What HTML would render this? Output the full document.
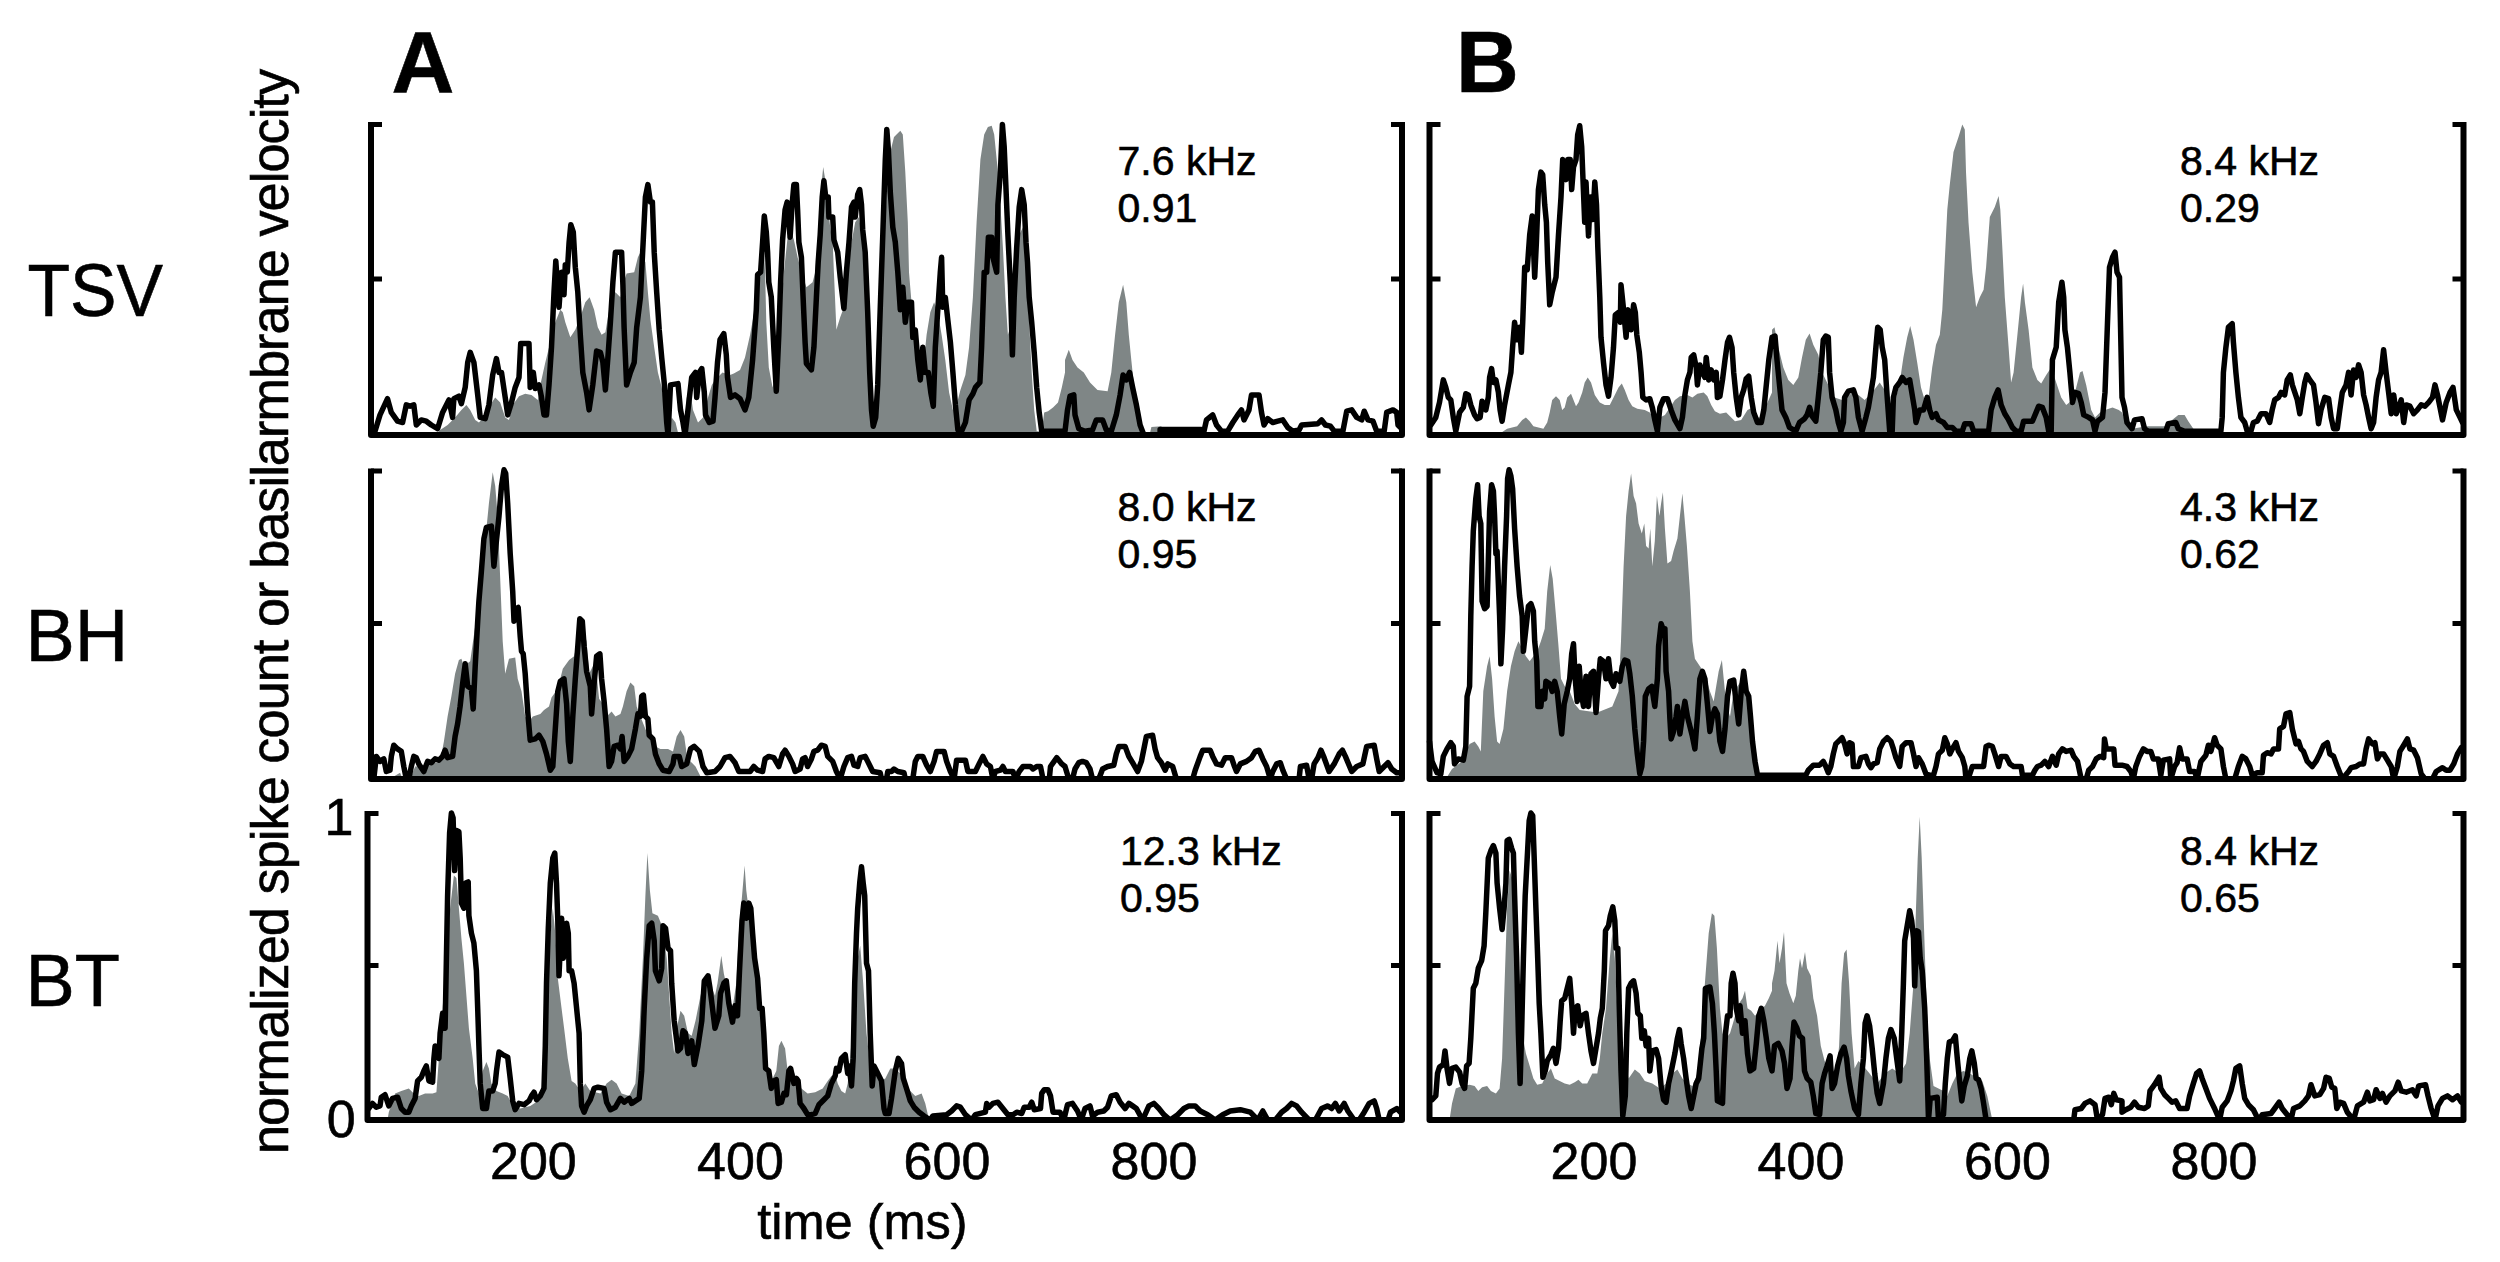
<!DOCTYPE html>
<html><head><meta charset="utf-8"><title>figure</title>
<style>
html,body{margin:0;padding:0;background:#fff;}
body{width:2500px;height:1262px;overflow:hidden;}
svg{display:block;}
text{font-family:"Liberation Sans",sans-serif;fill:#000;stroke:#000;stroke-width:0.6px;}
</style></head><body>
<svg width="2500" height="1262" viewBox="0 0 2500 1262">
<rect width="2500" height="1262" fill="#fff"/>
<g id="pA1"><polygon points="375.0,435.0 375.0,432.5 437.6,432.5 440.1,430.0 447.6,425.0 455.1,417.4 461.4,409.9 466.4,404.9 470.2,409.9 475.2,419.9 478.9,422.5 483.9,417.4 490.2,404.9 495.2,397.4 500.2,402.4 505.2,417.4 509.0,419.9 512.7,404.9 519.0,396.2 525.2,393.7 531.5,394.9 537.8,399.9 540.3,384.9 545.3,362.4 550.3,342.3 555.3,322.3 560.3,309.8 562.8,312.3 565.3,322.3 570.3,337.3 575.3,329.8 580.3,317.3 585.3,302.3 589.6,297.3 594.1,309.8 597.8,327.3 601.6,334.8 605.4,332.3 607.9,317.3 611.6,297.3 615.4,292.3 620.4,297.3 622.9,284.7 626.6,273.5 634.2,272.2 637.9,257.2 640.4,252.2 645.4,262.2 647.9,292.3 650.4,319.8 654.2,347.3 657.9,372.4 661.7,387.4 665.5,409.9 668.0,432.5 671.7,417.4 675.5,422.5 678.0,432.5 684.2,432.5 686.7,397.4 690.5,392.4 693.0,409.9 698.0,422.5 703.0,417.4 708.0,397.4 711.8,384.9 715.0,379.9 715.0,379.9 722.5,372.4 730.0,374.9 733.8,373.6 740.0,369.9 745.0,357.4 750.1,334.8 755.1,307.3 760.1,277.2 763.8,247.2 765.1,272.2 766.3,322.3 768.8,367.4 772.6,387.4 776.3,372.4 780.1,322.3 783.9,272.2 787.6,237.2 790.1,229.7 793.9,239.7 797.6,257.2 801.4,272.2 806.4,287.2 812.6,282.2 815.2,272.2 817.7,242.2 820.2,197.1 823.2,167.1 825.2,179.6 827.7,204.6 830.2,227.2 832.7,242.2 833.9,272.2 836.4,329.8 840.2,317.3 843.9,307.3 847.7,272.2 851.5,242.2 855.2,222.2 859.0,217.1 862.7,242.2 865.2,284.7 867.7,347.3 870.2,397.4 872.7,422.5 876.5,409.9 879.0,347.3 882.8,272.2 886.5,197.1 890.3,152.0 894.0,137.0 900.3,130.8 902.8,134.5 905.3,172.1 907.8,222.2 909.0,272.2 911.5,302.3 915.3,334.8 919.1,359.9 922.8,372.4 926.6,334.8 930.3,312.3 934.1,302.3 937.8,312.3 941.6,334.8 945.3,359.9 949.1,392.4 952.9,409.9 956.6,404.9 960.4,389.9 965.4,374.9 969.1,347.3 972.9,297.3 976.6,222.2 980.4,159.6 984.2,134.5 987.9,127.0 991.7,125.8 994.2,134.5 996.7,159.6 999.2,184.6 1002.9,247.2 1005.4,297.3 1007.9,334.8 1011.7,322.3 1015.5,272.2 1019.2,234.7 1023.0,227.2 1026.7,272.2 1029.2,322.3 1031.7,372.4 1034.2,409.9 1036.7,431.2 1041.7,431.2 1044.2,412.4 1048.0,411.2 1053.0,407.4 1058.0,402.4 1061.8,387.4 1065.0,372.4 1065.0,359.9 1068.8,349.8 1072.5,359.9 1077.5,367.4 1083.8,372.4 1090.0,382.4 1097.5,389.9 1107.6,391.2 1111.3,372.4 1115.1,334.8 1118.8,302.3 1123.1,284.7 1126.3,302.3 1128.8,334.8 1131.3,359.9 1133.9,384.9 1137.6,409.9 1141.4,432.5 1150.1,432.5 1151.4,427.0 1161.4,426.2 1162.6,432.5 1162.6,435.0" fill="#7f8686"/>
<polyline points="375.0,431.2 380.0,414.9 387.5,398.7 391.3,412.4 397.5,421.2 402.6,422.5 406.3,404.9 410.1,406.2 413.8,404.9 416.3,425.0 421.3,419.9 426.3,421.2 431.3,425.0 437.6,428.7 442.6,412.4 448.9,399.9 452.6,417.4 453.9,398.7 458.9,396.2 461.4,403.7 465.2,387.4 467.7,362.4 470.2,352.3 473.9,362.4 477.7,394.9 480.2,417.4 485.2,418.7 488.9,404.9 492.7,374.9 496.4,358.6 499.0,372.4 501.5,372.4 505.2,397.4 507.7,414.9 511.5,402.4 515.2,387.4 519.0,377.4 520.7,343.6 529.0,343.6 530.2,387.4 533.3,372.4 535.3,388.6 539.0,384.9 541.5,397.4 544.0,414.9 546.5,414.9 549.0,384.9 551.5,347.3 554.0,292.3 555.8,261.0 559.0,307.3 561.5,272.2 564.0,294.8 565.3,264.7 567.3,272.2 569.1,242.2 570.8,224.7 573.3,232.2 575.3,267.2 577.8,292.3 580.3,334.8 582.8,372.4 586.6,392.4 589.1,409.9 592.8,384.9 596.6,351.1 600.4,352.3 602.9,362.4 605.4,389.9 607.9,357.4 610.4,322.3 612.9,282.2 615.4,252.2 621.6,252.2 622.9,284.7 624.1,327.3 626.6,384.9 630.4,372.4 634.2,362.4 636.7,327.3 640.4,297.3 642.9,247.2 645.4,197.1 647.9,184.6 650.4,202.1 652.4,202.1 654.2,252.2 656.7,292.3 659.2,329.8 661.7,357.4 664.2,382.4 666.7,422.5 668.0,435.0 670.5,384.9 678.0,383.6 680.5,409.9 683.0,422.5 685.0,435.0 688.0,409.9 691.7,377.4 695.5,372.4 696.7,397.4 699.3,372.4 701.8,368.6 704.3,392.4 705.5,414.9 709.3,422.5 713.0,421.2 715.0,397.4 715.0,397.4 717.5,362.4 720.0,339.8 723.8,333.6 726.3,354.8 727.5,377.4 730.5,397.4 735.0,394.9 740.0,398.7 745.0,409.9 748.8,397.4 752.6,359.9 756.3,309.8 757.6,274.7 760.6,272.2 762.6,242.2 764.3,215.9 766.3,232.2 767.6,252.2 768.8,282.2 771.3,297.3 773.8,347.3 776.3,391.2 778.8,334.8 780.6,282.2 782.6,239.7 785.1,209.6 787.1,202.1 788.9,222.2 790.1,237.2 792.1,204.6 793.9,184.6 796.4,184.6 797.6,209.6 798.9,242.2 801.4,257.2 803.1,297.3 805.1,342.3 806.4,363.6 811.4,369.9 813.9,347.3 816.4,297.3 818.2,262.2 820.2,234.7 822.2,197.1 823.9,180.8 825.7,197.1 828.2,197.1 828.9,217.1 832.7,217.1 833.9,239.7 837.7,252.2 840.2,277.2 843.9,308.5 846.4,272.2 849.0,242.2 851.5,207.1 854.0,202.1 855.2,217.1 857.7,194.6 859.7,189.6 861.5,204.6 862.7,229.7 865.2,252.2 867.7,312.3 869.7,372.4 871.5,409.9 873.2,426.2 875.7,417.4 877.7,384.9 880.2,309.8 882.8,234.7 885.3,159.6 886.8,129.5 888.5,152.0 890.3,192.1 892.8,227.2 895.3,242.2 897.8,272.2 900.3,309.8 902.8,287.2 905.3,322.3 907.8,302.3 911.5,302.3 912.8,337.3 915.3,329.8 917.8,359.9 920.3,379.9 922.8,347.3 925.3,372.4 928.3,372.4 930.8,392.4 933.3,406.2 935.3,347.3 937.8,309.8 940.3,272.2 941.6,257.2 942.8,307.3 945.3,297.3 947.8,319.8 950.4,342.3 952.9,372.4 955.4,404.9 957.9,430.0 961.6,431.2 965.4,422.5 969.1,399.9 972.9,393.7 975.4,387.4 979.9,382.4 981.6,347.3 984.2,272.2 986.7,272.2 988.4,237.2 991.7,237.2 992.9,257.2 996.7,272.2 997.9,204.6 1000.4,172.1 1002.4,124.5 1004.2,147.0 1005.4,174.6 1007.9,234.7 1010.4,284.7 1012.4,354.8 1014.2,297.3 1016.7,247.2 1019.2,207.1 1021.7,189.6 1024.2,204.6 1026.0,242.2 1027.5,262.2 1029.2,297.3 1031.7,322.3 1034.2,352.3 1036.7,387.4 1039.2,412.4 1041.7,431.2 1065.0,431.2 1065.0,431.2 1067.5,409.9 1070.0,396.2 1073.8,394.9 1075.0,414.9 1078.8,428.7 1085.0,431.2 1092.5,430.0 1096.3,419.9 1102.6,419.9 1106.3,430.0 1111.3,431.2 1116.3,414.9 1120.1,394.9 1123.1,374.9 1126.3,379.9 1129.6,372.4 1132.6,387.4 1136.4,404.9 1140.1,425.0 1143.9,435.0 1160.1,435.0 1160.1,429.5 1201.5,429.5 1204.0,431.2 1206.5,419.9 1212.7,414.9 1216.5,425.0 1221.5,431.2 1227.7,431.2 1232.8,422.5 1237.8,414.9 1241.5,409.9 1244.0,419.9 1249.0,409.9 1251.5,394.9 1259.0,394.9 1261.5,412.4 1264.0,425.0 1267.8,418.7 1272.8,422.5 1277.8,421.2 1282.8,419.9 1287.8,427.5 1292.8,431.2 1299.1,430.0 1301.6,425.0 1317.9,423.7 1321.6,419.9 1325.4,425.0 1330.4,426.2 1334.2,431.2 1342.9,431.2 1346.7,411.2 1351.7,409.9 1356.7,417.4 1361.7,419.9 1364.2,411.2 1368.0,419.9 1373.0,421.2 1376.7,431.2 1384.2,431.2 1386.7,412.4 1393.0,409.9 1396.7,412.4 1398.0,425.0 1400.5,427.5" fill="none" stroke="#000" stroke-width="5.5" stroke-linejoin="round" stroke-linecap="round"/>
<path d="M371,122.0 V435 H1402 V122.0" fill="none" stroke="#000" stroke-width="6" stroke-linejoin="round" stroke-linecap="butt"/>
<path d="M371,124.5 h11 M1402,124.5 h-11 M371,279 h11 M1402,279 h-11" fill="none" stroke="#000" stroke-width="5" stroke-linecap="butt"/></g>
<g id="pA2"><polygon points="390.0,779.0 390.0,779.0 393.8,776.5 400.1,772.7 402.6,779.0 410.1,779.0 415.1,766.5 427.6,765.2 440.1,761.4 443.9,741.4 447.6,716.4 451.4,696.3 455.1,673.8 458.9,660.0 461.4,658.8 463.9,666.3 470.2,661.3 475.2,626.2 480.2,586.2 485.2,541.1 488.9,503.6 492.7,472.3 495.2,486.0 497.7,516.1 500.2,578.7 502.7,641.3 505.2,673.8 509.0,658.8 515.2,657.5 517.7,678.8 521.5,691.3 525.2,716.4 529.0,721.4 532.8,716.4 540.3,713.9 544.0,710.1 549.0,706.4 551.5,697.6 557.8,688.8 562.8,668.8 569.1,660.0 574.1,656.3 577.8,641.3 582.8,628.7 586.6,641.3 589.1,673.8 592.8,666.3 596.6,673.8 599.1,698.8 602.9,703.9 606.6,716.4 611.6,711.4 615.4,716.4 620.4,713.9 622.9,706.4 626.6,691.3 630.4,682.6 634.2,686.3 636.7,706.4 640.4,716.4 645.4,728.9 650.4,738.9 655.4,746.4 660.4,748.9 668.0,748.9 673.0,751.4 676.7,736.4 680.5,730.1 684.2,736.4 686.7,753.9 690.5,761.4 695.5,766.5 699.3,774.0 701.8,779.0 701.8,779.0" fill="#7f8686"/>
<polyline points="373.8,779.0 376.3,756.4 380.0,761.4 383.8,758.9 386.3,771.5 390.0,770.2 391.3,756.4 393.8,745.2 397.5,748.9 401.3,751.4 403.8,766.5 406.3,779.0 408.8,779.0 411.3,766.5 413.8,756.4 416.3,757.7 418.8,763.9 423.8,771.5 427.6,761.4 431.3,762.7 435.1,758.9 438.9,760.2 442.6,756.4 445.1,750.2 447.6,757.7 452.6,756.4 455.1,736.4 457.6,723.9 460.1,706.4 462.6,683.8 465.2,663.8 467.7,686.3 471.4,688.8 473.2,708.9 475.2,666.3 477.7,621.2 478.9,601.2 481.4,571.2 483.9,538.6 486.4,527.3 491.4,526.1 493.9,566.2 496.4,541.1 499.0,516.1 501.5,486.0 504.0,469.8 505.7,473.5 507.7,503.6 510.2,553.6 512.7,591.2 514.0,621.2 516.5,608.7 518.2,607.5 520.2,636.3 521.5,651.3 523.2,653.8 525.2,673.8 527.7,711.4 530.2,740.2 535.3,738.9 539.0,735.2 542.8,741.4 546.5,753.9 550.3,770.2 552.8,766.5 555.3,728.9 557.8,691.3 560.3,681.3 564.0,678.8 566.6,703.9 568.3,741.4 570.3,761.4 572.8,716.4 575.3,678.8 577.8,646.3 579.8,618.7 582.3,621.2 584.1,646.3 586.6,671.3 590.3,686.3 591.6,713.9 594.1,683.8 596.6,656.3 599.9,653.8 601.6,678.8 604.1,701.4 606.6,728.9 609.1,766.5 611.6,761.4 614.1,746.4 617.9,745.2 620.4,748.9 622.1,736.4 624.1,761.4 627.9,756.4 631.6,748.9 635.4,728.9 637.9,713.9 640.4,716.4 641.7,696.3 643.4,695.1 645.4,716.4 647.9,718.9 649.2,735.2 652.9,738.9 655.4,753.9 659.2,763.9 662.9,770.2 669.2,771.5 673.0,763.9 674.2,756.4 679.2,756.4 681.7,766.5 686.7,763.9 690.5,748.9 694.2,746.4 699.3,751.4 703.0,766.5 706.8,772.7 715.0,771.5 715.0,771.5 720.0,766.5 725.0,757.7 730.0,756.4 735.0,762.7 738.8,771.5 750.1,771.5 753.8,766.5 757.6,770.2 762.6,771.5 765.1,758.9 768.8,756.4 773.8,757.7 778.8,766.5 782.6,753.9 785.1,750.2 788.9,756.4 792.6,763.9 795.1,771.5 800.1,769.0 802.6,758.9 805.1,757.7 807.6,766.5 811.4,758.9 813.9,751.4 817.7,750.2 821.4,745.2 825.2,746.4 827.7,756.4 832.7,761.4 836.4,771.5 840.2,779.0 843.9,766.5 847.7,757.7 851.5,756.4 854.0,765.2 857.7,766.5 860.2,757.7 865.2,756.4 869.0,763.9 872.7,771.5 880.2,772.7 881.5,779.0 886.5,779.0 887.8,771.5 891.5,771.5 894.0,769.0 897.8,771.5 904.0,772.7 905.3,779.0 912.8,779.0 915.3,761.4 917.8,756.4 922.8,756.4 926.6,765.2 930.3,771.5 934.1,761.4 936.6,751.4 944.1,751.4 946.6,761.4 950.4,771.5 954.1,779.0 956.6,760.2 965.4,760.2 967.9,771.5 975.4,771.5 979.1,763.9 982.9,756.4 986.7,763.9 990.4,766.5 992.9,779.0 995.4,771.5 1000.4,770.2 1002.9,766.5 1005.4,771.5 1012.9,771.5 1015.5,779.0 1019.2,771.5 1023.0,766.5 1030.5,766.5 1033.0,769.0 1036.7,766.5 1040.5,766.5 1043.0,779.0 1049.3,779.0 1050.5,766.5 1056.8,757.7 1061.8,763.9 1065.0,766.5 1065.0,766.5 1068.8,779.0 1072.5,779.0 1075.0,769.0 1078.8,762.7 1082.5,761.4 1086.3,762.7 1090.0,769.0 1092.5,779.0 1098.8,779.0 1102.6,769.0 1107.6,766.5 1113.8,765.2 1116.3,753.9 1118.8,746.4 1125.1,746.4 1128.8,756.4 1132.6,762.7 1137.6,771.5 1141.4,761.4 1143.9,748.9 1146.4,736.4 1152.6,735.2 1155.1,748.9 1157.6,757.7 1161.4,762.7 1165.2,770.2 1167.7,763.9 1172.7,766.5 1176.4,779.0 1192.7,779.0 1195.2,770.2 1200.2,756.4 1202.7,750.2 1210.2,750.2 1212.7,756.4 1216.5,763.9 1221.5,765.2 1225.2,757.7 1231.5,757.7 1234.0,765.2 1236.5,771.5 1240.3,763.9 1246.5,761.4 1251.5,757.7 1255.3,751.4 1259.0,750.2 1262.8,758.9 1266.6,766.5 1270.3,779.0 1272.8,771.5 1276.6,763.9 1280.3,762.7 1282.8,770.2 1286.6,779.0 1299.1,779.0 1300.4,766.5 1306.6,765.2 1309.1,779.0 1311.6,779.0 1314.1,763.9 1317.9,757.7 1320.9,750.2 1324.1,757.7 1329.1,771.5 1334.2,763.9 1339.2,753.9 1342.4,750.2 1345.4,756.4 1351.7,771.5 1356.7,766.5 1362.9,763.9 1366.7,746.4 1374.2,745.2 1376.7,758.9 1379.2,771.5 1384.2,766.5 1388.0,762.7 1391.7,769.0 1396.7,772.7 1400.5,772.7" fill="none" stroke="#000" stroke-width="5.5" stroke-linejoin="round" stroke-linecap="round"/>
<path d="M371,468.5 V779 H1402 V468.5" fill="none" stroke="#000" stroke-width="6" stroke-linejoin="round" stroke-linecap="butt"/>
<path d="M371,471 h11 M1402,471 h-11 M371,623.6 h11 M1402,623.6 h-11" fill="none" stroke="#000" stroke-width="5" stroke-linecap="butt"/></g>
<g id="pA3"><polygon points="387.5,1120.0 387.5,1120.0 388.8,1112.2 395.1,1093.4 401.3,1090.9 408.8,1088.4 413.8,1093.4 418.8,1095.9 425.1,1093.4 432.6,1093.4 436.4,1092.2 438.9,1058.4 442.6,1008.3 446.4,958.2 450.1,908.2 453.9,875.6 456.4,878.1 458.9,908.2 461.4,938.2 463.9,963.2 466.4,995.8 468.9,1028.3 472.7,1058.4 475.2,1083.4 478.9,1093.4 482.7,1070.9 486.4,1062.1 488.9,1068.4 491.4,1083.4 496.5,1090.9 502.7,1093.4 507.7,1095.9 512.7,1105.9 520.2,1108.5 530.3,1105.9 537.8,1100.9 542.8,1083.4 546.5,1008.3 550.3,933.2 552.8,908.2 555.3,933.2 557.8,978.3 560.3,998.3 564.1,1028.3 567.8,1058.4 571.6,1080.9 575.3,1083.4 580.3,1090.9 585.3,1083.4 590.3,1090.9 600.4,1093.4 606.6,1083.4 611.6,1079.7 616.6,1083.4 621.6,1093.4 629.2,1095.9 635.4,1083.4 639.2,1033.3 642.9,958.2 645.4,895.6 647.4,853.1 649.9,890.6 652.4,913.2 657.9,915.7 663.0,928.2 666.7,958.2 669.2,995.8 671.7,1033.3 674.2,1053.4 676.7,1028.3 680.5,1010.8 684.2,1015.8 688.0,1033.3 691.7,1035.8 695.5,1020.8 700.5,995.8 704.3,980.8 710.0,978.3 710.0,983.3 715.0,995.8 717.5,983.3 721.3,955.7 723.8,973.2 727.5,990.8 732.5,1008.3 736.3,983.3 738.8,933.2 742.5,890.6 744.6,865.6 746.3,890.6 750.1,920.7 753.8,948.2 757.6,978.3 761.3,1013.3 763.8,1045.9 767.6,1070.9 772.6,1078.4 776.3,1070.9 778.9,1045.9 781.4,1040.8 785.1,1048.4 787.6,1070.9 791.4,1065.9 796.4,1078.4 801.4,1088.4 807.6,1093.4 815.2,1092.2 822.7,1088.4 827.7,1080.9 831.4,1075.9 835.2,1073.4 837.7,1083.4 841.4,1090.9 845.2,1093.4 847.7,1083.4 850.2,1058.4 854.0,1008.3 857.7,958.2 860.2,945.7 863.2,983.3 866.5,1033.3 870.2,1065.9 874.0,1070.9 880.3,1080.9 885.3,1078.4 890.3,1068.4 895.3,1068.4 900.3,1073.4 905.3,1083.4 910.3,1090.9 915.3,1095.9 921.6,1093.4 925.3,1103.4 929.1,1120.0 929.1,1120.0" fill="#7f8686"/>
<polyline points="368.8,1108.5 372.5,1103.4 376.3,1107.2 380.0,1105.9 381.3,1097.2 385.0,1094.7 388.8,1105.9 392.5,1098.4 397.6,1097.2 401.3,1108.5 405.1,1112.2 408.8,1112.2 411.3,1105.9 415.1,1098.4 417.6,1080.9 421.3,1077.2 423.8,1070.9 426.3,1065.9 428.9,1080.9 432.6,1082.2 433.9,1058.4 435.1,1045.9 438.9,1058.4 440.1,1033.3 442.6,1013.3 445.1,1028.3 446.4,958.2 447.6,895.6 449.6,833.0 451.4,813.0 453.1,818.0 454.6,870.6 456.4,830.5 458.9,831.8 460.2,858.1 461.4,903.1 463.9,908.2 465.7,883.1 468.2,881.9 468.9,915.7 471.4,933.2 473.9,943.2 476.4,970.7 477.7,1008.3 478.9,1045.9 480.2,1083.4 482.7,1108.5 486.4,1108.5 488.9,1090.9 492.7,1090.9 495.2,1083.4 496.5,1070.9 499.0,1052.1 502.7,1054.6 507.7,1057.1 510.2,1078.4 512.7,1100.9 515.2,1109.7 519.0,1103.4 524.0,1104.7 529.0,1100.9 531.5,1095.9 534.0,1092.2 536.5,1099.7 540.3,1095.9 544.0,1088.4 545.3,1045.9 546.5,983.3 548.3,928.2 550.3,883.1 552.8,858.1 554.8,853.1 556.5,883.1 557.8,920.7 559.0,975.8 561.6,918.2 563.3,958.2 565.3,938.2 566.6,923.2 568.3,933.2 569.1,970.7 571.6,970.7 574.1,983.3 576.6,1008.3 579.1,1033.3 580.3,1083.4 581.6,1105.9 584.1,1112.2 586.6,1105.9 590.3,1099.7 594.1,1088.4 597.9,1087.2 604.1,1088.4 606.6,1102.2 610.4,1109.7 615.4,1107.2 620.4,1098.4 624.1,1102.2 629.2,1098.4 631.7,1103.4 635.4,1100.9 639.2,1098.4 641.7,1070.9 644.2,1008.3 646.7,958.2 649.2,925.7 651.7,923.2 654.2,940.7 655.4,970.7 659.2,980.8 661.7,968.2 663.0,925.7 665.5,928.2 668.0,948.2 670.5,950.7 671.7,983.3 674.2,1020.8 678.0,1050.9 680.5,1048.4 683.0,1030.8 685.5,1033.3 688.0,1053.4 691.7,1040.8 694.3,1064.6 698.0,1045.9 701.8,1020.8 704.3,980.8 708.0,975.8 710.0,988.3 710.0,988.3 712.5,1008.3 715.0,1028.3 718.8,1015.8 720.5,993.3 723.8,983.3 726.3,980.8 728.8,1003.3 732.5,1022.1 735.0,1005.8 737.5,1015.8 739.5,970.7 742.0,920.7 743.8,903.1 746.3,918.2 748.8,903.1 750.8,908.2 752.6,933.2 754.6,958.2 757.6,978.3 759.6,1008.3 762.1,1008.3 763.8,1033.3 765.6,1068.4 768.8,1070.9 771.3,1088.4 773.8,1080.9 776.3,1079.7 778.1,1103.4 781.4,1102.2 783.9,1093.4 786.4,1094.7 788.9,1070.9 790.6,1068.4 793.9,1083.4 796.4,1078.4 798.1,1080.9 800.1,1103.4 803.9,1108.5 807.6,1114.7 811.4,1114.7 815.2,1113.5 818.9,1104.7 823.9,1099.7 827.7,1095.9 831.4,1083.4 835.2,1075.9 836.4,1068.4 838.9,1070.9 841.4,1058.4 845.2,1054.6 847.7,1073.4 849.0,1065.9 851.5,1085.9 853.2,1058.4 854.7,983.3 856.5,933.2 857.7,908.2 859.7,883.1 861.5,866.8 863.2,883.1 864.7,895.6 866.5,963.2 868.5,970.7 870.2,1033.3 872.2,1085.9 874.0,1065.9 877.8,1073.4 881.5,1080.9 884.0,1108.5 885.3,1113.5 889.0,1113.5 891.5,1098.4 895.3,1070.9 898.3,1058.4 901.5,1063.4 903.3,1078.4 906.5,1088.4 910.3,1100.9 914.1,1107.2 919.1,1112.2 924.1,1116.0 930.3,1120.0 932.8,1116.0 946.6,1114.7 951.6,1111.0 956.6,1105.9 960.4,1107.2 965.4,1114.7 971.6,1120.0 975.4,1114.7 985.4,1112.2 986.7,1103.4 989.2,1107.2 992.9,1103.4 997.9,1102.2 1002.9,1108.5 1007.9,1114.7 1013.0,1114.7 1016.7,1112.2 1021.7,1113.5 1024.2,1107.2 1029.2,1107.2 1031.7,1102.2 1034.2,1109.7 1040.5,1108.5 1041.7,1093.4 1044.3,1089.7 1048.0,1089.7 1050.5,1095.9 1053.0,1112.2 1060.0,1112.2 1060.0,1112.2 1063.8,1120.0 1067.5,1104.7 1072.5,1103.4 1077.5,1111.0 1081.3,1120.0 1085.0,1108.5 1090.0,1105.9 1092.5,1116.0 1097.6,1112.2 1103.8,1111.0 1107.6,1107.2 1111.3,1095.9 1116.3,1094.7 1120.1,1102.2 1125.1,1108.5 1128.9,1103.4 1132.6,1105.9 1136.4,1108.5 1142.6,1120.0 1148.9,1105.9 1153.9,1103.4 1158.9,1108.5 1163.9,1114.7 1170.2,1120.0 1177.7,1114.7 1183.9,1108.5 1188.9,1105.9 1195.2,1105.9 1200.2,1111.0 1207.7,1114.7 1215.2,1120.0 1222.7,1114.7 1230.3,1111.0 1240.3,1109.7 1250.3,1112.2 1257.8,1120.0 1262.8,1111.0 1267.8,1120.0 1275.3,1120.0 1281.6,1112.2 1286.6,1108.5 1291.6,1103.4 1296.6,1105.9 1301.6,1112.2 1309.1,1120.0 1315.4,1120.0 1321.6,1108.5 1327.9,1105.9 1331.7,1108.5 1335.4,1103.4 1339.2,1111.0 1344.2,1103.4 1347.9,1111.0 1354.2,1120.0 1359.2,1120.0 1364.2,1112.2 1369.2,1103.4 1374.2,1100.9 1376.7,1108.5 1379.2,1120.0 1388.0,1120.0 1390.5,1112.2 1396.8,1108.5 1400.5,1112.2" fill="none" stroke="#000" stroke-width="5.5" stroke-linejoin="round" stroke-linecap="round"/>
<path d="M367.5,811.0 V1120 H1402 V811.0" fill="none" stroke="#000" stroke-width="6" stroke-linejoin="round" stroke-linecap="butt"/>
<path d="M367.5,813.5 h11 M1402,813.5 h-11 M367.5,965.5 h11 M1402,965.5 h-11" fill="none" stroke="#000" stroke-width="5" stroke-linecap="butt"/></g>
<g id="pB1"><polygon points="1499.6,435.0 1499.6,433.7 1507.1,428.7 1517.1,426.2 1522.2,419.9 1525.9,417.4 1529.7,421.2 1533.4,426.2 1538.4,427.5 1543.4,428.7 1547.2,422.5 1549.7,412.4 1552.2,399.9 1556.0,396.2 1559.7,399.9 1562.2,409.9 1564.7,407.4 1567.2,397.4 1571.0,393.7 1573.5,399.9 1576.0,406.2 1578.5,402.4 1582.2,392.4 1584.7,382.4 1587.7,377.4 1591.0,382.4 1594.8,394.9 1599.8,402.4 1604.8,404.9 1609.8,404.9 1614.8,394.9 1618.5,387.4 1621.8,383.6 1624.8,389.9 1628.6,399.9 1632.3,406.2 1637.3,408.7 1644.8,409.9 1649.8,412.4 1654.8,419.9 1659.9,417.4 1664.9,414.9 1669.9,407.4 1674.9,399.9 1679.9,396.2 1687.4,394.9 1692.4,397.4 1697.4,393.7 1703.7,392.4 1707.4,396.2 1711.2,404.9 1714.9,411.2 1719.9,413.7 1726.2,412.4 1731.2,417.4 1735.0,421.2 1741.2,419.9 1747.5,409.9 1752.5,407.4 1757.5,417.4 1762.5,417.4 1767.5,402.4 1772.0,392.4 1772.0,329.8 1774.5,327.3 1778.3,347.3 1783.3,367.4 1788.3,379.9 1793.3,384.9 1798.3,377.4 1802.0,357.4 1805.8,339.8 1809.6,333.6 1813.3,344.8 1818.3,354.8 1822.1,372.4 1828.3,384.9 1834.6,397.4 1842.1,399.9 1847.1,397.4 1852.1,392.4 1858.4,394.9 1864.6,399.9 1872.2,392.4 1879.7,382.4 1884.7,389.9 1889.7,404.9 1894.7,402.4 1899.7,382.4 1903.4,357.4 1907.2,337.3 1910.2,326.1 1913.5,339.8 1917.2,362.4 1921.0,387.4 1924.7,399.9 1928.5,397.4 1932.2,367.4 1936.0,344.8 1939.8,334.8 1942.3,309.8 1944.8,259.7 1947.3,209.6 1949.8,184.6 1953.5,152.0 1958.5,137.0 1962.3,124.5 1964.8,129.5 1966.0,172.1 1968.5,222.2 1972.3,272.2 1976.1,307.3 1979.8,297.3 1983.6,289.8 1986.1,267.2 1989.8,217.1 1994.8,207.1 1998.6,195.9 2000.3,209.6 2002.3,247.2 2004.8,297.3 2008.6,347.3 2011.1,382.4 2013.6,372.4 2017.4,334.8 2021.1,297.3 2023.1,283.5 2024.9,302.3 2028.6,329.8 2032.4,367.4 2037.4,379.9 2041.2,383.6 2046.2,374.9 2051.2,367.4 2056.2,382.4 2061.2,397.4 2066.2,404.9 2072.5,399.9 2076.2,387.4 2080.0,372.4 2082.5,371.1 2086.2,384.9 2091.2,409.9 2095.0,417.4 2100.0,412.4 2105.0,409.9 2112.5,407.4 2118.8,409.9 2122.0,412.4 2122.0,412.4 2125.8,422.5 2132.0,428.7 2147.0,426.2 2164.6,426.2 2172.1,419.9 2178.3,414.9 2184.6,414.9 2188.3,421.2 2193.4,428.7 2197.1,433.7 2197.1,435.0" fill="#7f8686"/>
<polyline points="1430.8,425.0 1435.8,417.4 1439.5,402.4 1443.3,379.9 1445.8,387.4 1448.3,397.4 1450.8,399.9 1453.3,417.4 1455.8,431.2 1459.6,412.4 1463.3,407.4 1465.8,393.7 1468.3,394.9 1470.8,404.9 1474.6,414.9 1477.1,418.7 1480.1,417.4 1482.1,401.2 1485.8,409.9 1488.3,397.4 1489.6,377.4 1491.6,368.6 1493.4,382.4 1495.9,379.9 1498.4,392.4 1500.1,409.9 1502.1,421.2 1504.6,404.9 1508.4,384.9 1510.9,372.4 1512.6,347.3 1514.6,322.3 1517.1,339.8 1519.6,327.3 1521.4,352.3 1522.7,322.3 1524.7,267.2 1527.2,269.7 1529.7,234.7 1532.2,215.9 1534.7,277.2 1536.4,242.2 1538.4,189.6 1540.9,172.1 1542.7,174.6 1544.7,204.6 1546.4,222.2 1547.7,262.2 1549.7,304.8 1552.2,292.3 1556.0,277.2 1558.5,234.7 1561.0,197.1 1562.7,159.6 1566.0,179.6 1567.7,159.6 1570.2,159.6 1571.7,189.6 1573.5,167.1 1576.0,159.6 1577.7,134.5 1579.7,125.8 1581.7,147.0 1583.5,192.1 1584.7,222.2 1586.0,182.1 1588.5,235.9 1590.3,197.1 1592.8,219.6 1594.8,182.1 1596.5,204.6 1597.8,247.2 1599.8,297.3 1601.0,337.3 1603.5,362.4 1606.0,384.9 1608.5,396.2 1611.0,377.4 1613.5,347.3 1615.3,314.8 1618.5,312.3 1620.3,322.3 1621.0,284.7 1623.6,309.8 1626.1,337.3 1627.8,309.8 1631.1,329.8 1633.6,304.8 1635.3,312.3 1636.8,334.8 1639.3,352.3 1641.1,372.4 1642.8,397.4 1646.1,399.9 1649.8,398.7 1652.3,407.4 1654.8,419.9 1657.4,431.2 1659.9,407.4 1663.6,398.7 1667.4,398.7 1671.1,409.9 1674.9,419.9 1679.9,428.7 1682.4,417.4 1684.9,394.9 1687.4,379.9 1689.9,372.4 1691.2,357.4 1693.7,354.8 1696.2,367.4 1697.4,384.9 1699.9,364.9 1702.4,372.4 1704.9,377.4 1706.2,357.4 1708.7,379.9 1711.2,369.9 1713.7,379.9 1716.2,372.4 1717.4,397.4 1719.9,396.2 1722.5,379.9 1725.0,359.9 1727.5,342.3 1729.5,337.3 1732.0,347.3 1733.7,372.4 1736.2,397.4 1738.7,414.9 1741.2,397.4 1743.7,389.9 1746.2,378.6 1748.7,376.1 1751.2,397.4 1753.7,412.4 1757.5,422.5 1761.3,422.5 1763.8,409.9 1766.3,384.9 1768.8,359.9 1772.0,337.3 1772.0,337.3 1775.0,336.1 1777.0,359.9 1779.5,384.9 1782.0,409.9 1785.8,417.4 1789.5,427.5 1795.8,431.2 1799.5,422.5 1804.5,418.7 1807.1,414.9 1809.6,407.4 1812.1,416.2 1815.8,421.2 1818.3,397.4 1820.8,372.4 1823.3,339.8 1825.8,336.1 1828.3,337.3 1829.6,372.4 1832.1,397.4 1835.8,409.9 1838.3,422.5 1840.9,431.2 1843.4,422.5 1844.6,397.4 1848.4,391.2 1853.4,389.9 1855.9,397.4 1858.4,417.4 1862.1,431.2 1865.9,417.4 1868.4,407.4 1870.9,392.4 1873.4,377.4 1875.9,347.3 1877.7,327.3 1880.2,329.8 1882.2,347.3 1884.7,359.9 1887.2,397.4 1889.7,431.2 1892.2,431.2 1893.4,397.4 1895.9,387.4 1899.7,382.4 1902.2,377.4 1906.0,382.4 1909.7,379.9 1912.2,394.9 1914.7,409.9 1916.0,422.5 1919.7,409.9 1923.5,409.9 1927.2,397.4 1929.7,409.9 1932.2,417.4 1936.0,413.7 1938.5,419.9 1943.5,422.5 1947.3,427.5 1952.3,427.5 1956.0,431.2 1962.3,431.2 1964.8,423.7 1971.0,423.7 1973.6,431.2 1988.6,431.2 1991.1,409.9 1994.8,397.4 1998.1,389.9 2001.1,404.9 2004.8,413.7 2008.6,419.9 2012.4,427.5 2016.1,431.2 2021.1,431.2 2023.6,421.2 2032.4,421.2 2036.1,412.4 2038.6,406.2 2042.4,407.4 2046.2,417.4 2048.7,431.2 2051.2,431.2 2052.4,359.9 2056.2,347.3 2058.7,302.3 2061.9,282.2 2063.7,297.3 2064.9,329.8 2067.4,347.3 2069.9,372.4 2072.5,402.4 2075.0,392.4 2078.7,393.7 2081.2,402.4 2083.7,414.9 2088.7,417.4 2092.5,419.9 2095.0,431.2 2097.5,421.2 2102.5,417.4 2105.0,392.4 2107.5,322.3 2109.5,267.2 2112.5,257.2 2115.0,252.2 2117.0,272.2 2119.5,277.2 2122.0,397.4 2122.0,397.4 2124.5,407.4 2127.0,422.5 2132.0,428.7 2134.5,419.9 2142.0,418.7 2144.5,428.7 2148.3,431.2 2165.8,431.2 2168.3,423.7 2175.8,422.5 2178.3,428.7 2184.6,431.2 2220.9,431.2 2222.2,417.4 2223.4,372.4 2225.9,347.3 2228.4,327.3 2232.2,323.6 2233.4,342.3 2235.9,372.4 2238.4,397.4 2240.9,417.4 2244.7,422.5 2247.2,431.2 2250.9,431.2 2253.4,422.5 2257.2,421.2 2261.0,413.7 2266.0,413.7 2269.7,422.5 2272.2,409.9 2274.7,399.9 2278.5,397.4 2281.0,392.4 2284.7,394.9 2287.2,379.9 2290.3,374.9 2292.3,384.9 2294.8,392.4 2297.3,399.9 2299.8,413.7 2302.3,397.4 2304.8,382.4 2306.8,374.9 2309.8,379.9 2313.5,384.9 2316.0,402.4 2318.5,423.7 2321.0,409.9 2324.8,397.4 2328.6,398.7 2331.1,417.4 2333.6,428.7 2337.3,428.7 2339.8,409.9 2342.3,392.4 2346.1,384.9 2348.6,372.4 2351.1,394.9 2353.6,369.9 2356.1,377.4 2358.6,364.9 2361.1,372.4 2363.6,394.9 2366.1,404.9 2368.6,417.4 2371.1,428.7 2373.6,422.5 2376.1,397.4 2378.6,379.9 2381.1,372.4 2383.6,349.8 2386.1,372.4 2388.6,392.4 2391.2,413.7 2393.7,394.9 2396.2,413.7 2398.7,407.4 2401.2,399.9 2403.7,422.5 2406.2,404.9 2409.9,406.2 2413.7,413.7 2417.4,409.9 2421.2,404.9 2425.0,406.2 2428.7,402.4 2432.5,397.4 2435.0,384.9 2437.5,394.9 2440.0,407.4 2442.5,419.9 2446.2,402.4 2450.0,392.4 2453.0,387.4 2456.3,409.9 2460.0,417.4 2462.5,422.5" fill="none" stroke="#000" stroke-width="5.5" stroke-linejoin="round" stroke-linecap="round"/>
<path d="M1429.5,122.0 V435 H2463.5 V122.0" fill="none" stroke="#000" stroke-width="6" stroke-linejoin="round" stroke-linecap="butt"/>
<path d="M1429.5,124.5 h11 M2463.5,124.5 h-11 M1429.5,279 h11 M2463.5,279 h-11" fill="none" stroke="#000" stroke-width="5" stroke-linecap="butt"/></g>
<g id="pB2"><polygon points="1445.8,779.0 1445.8,779.0 1452.0,769.0 1462.1,761.4 1469.6,743.9 1474.6,741.4 1478.3,746.4 1480.8,751.4 1483.3,691.3 1487.1,666.3 1489.6,656.3 1492.1,678.8 1494.6,716.4 1497.1,741.4 1499.6,743.9 1503.4,728.9 1507.1,691.3 1510.9,666.3 1514.6,651.3 1518.4,641.3 1522.2,648.8 1525.9,656.3 1529.7,661.3 1533.4,656.3 1537.2,651.3 1540.9,641.3 1544.7,628.7 1547.2,591.2 1550.2,564.9 1552.7,578.7 1556.0,616.2 1558.5,646.3 1561.0,678.8 1564.7,686.3 1569.7,691.3 1574.7,703.9 1579.7,710.1 1597.3,712.6 1612.3,706.4 1618.5,691.3 1621.0,641.3 1623.6,566.2 1626.1,516.1 1628.6,491.0 1631.1,473.5 1633.6,496.0 1636.1,503.6 1638.6,523.6 1641.8,533.6 1644.3,523.6 1646.1,546.1 1648.6,548.6 1650.3,528.6 1652.3,566.2 1654.8,541.1 1656.9,496.0 1659.4,516.1 1661.1,503.6 1662.9,492.3 1664.9,528.6 1667.4,563.6 1671.1,561.1 1673.6,551.1 1677.4,538.6 1679.9,516.1 1682.4,493.5 1684.4,516.1 1686.9,546.1 1689.9,591.2 1692.4,641.3 1694.9,658.8 1699.9,666.3 1704.9,673.8 1709.9,691.3 1713.7,701.4 1716.2,686.3 1718.7,671.3 1721.9,660.0 1723.7,678.8 1726.2,703.9 1730.0,716.4 1733.7,691.3 1737.5,686.3 1742.5,678.8 1746.2,686.3 1750.0,701.4 1752.5,728.9 1756.3,753.9 1760.0,779.0 1760.0,779.0" fill="#7f8686"/>
<polyline points="1429.5,741.4 1432.0,761.4 1437.0,772.7 1440.8,774.0 1443.3,756.4 1447.0,748.9 1450.8,742.7 1453.3,746.4 1454.5,763.9 1458.3,758.9 1463.3,760.2 1465.8,746.4 1467.1,696.3 1469.6,686.3 1470.8,616.2 1472.1,566.2 1473.3,531.1 1475.8,498.5 1477.6,484.8 1479.1,516.1 1480.8,523.6 1482.1,601.2 1484.6,608.7 1487.1,606.2 1488.3,561.1 1489.6,511.1 1491.6,484.8 1493.4,491.0 1494.6,516.1 1495.9,553.6 1497.1,551.1 1499.6,616.2 1500.9,663.8 1502.6,628.7 1504.6,566.2 1506.6,516.1 1507.6,478.5 1509.1,469.8 1510.9,476.0 1512.6,488.5 1514.6,528.6 1517.1,566.2 1519.6,596.2 1522.2,616.2 1523.4,651.3 1525.9,628.7 1528.4,606.2 1530.9,603.7 1533.4,611.2 1534.7,641.3 1536.7,661.3 1537.9,706.4 1540.9,706.4 1542.2,691.3 1544.7,698.8 1545.9,681.3 1549.7,683.8 1552.2,691.3 1554.7,681.3 1557.2,691.3 1559.7,716.4 1561.7,733.9 1564.2,703.9 1567.2,691.3 1569.7,678.8 1571.7,653.8 1573.5,643.8 1575.2,678.8 1577.2,701.4 1579.2,666.3 1581.0,691.3 1583.5,706.4 1586.0,676.3 1588.5,706.4 1591.0,673.8 1593.5,671.3 1596.0,712.6 1598.5,678.8 1600.3,658.8 1603.5,661.3 1606.0,678.8 1608.5,658.8 1611.0,681.3 1613.5,686.3 1616.0,673.8 1619.8,681.3 1622.3,666.3 1624.8,660.0 1627.8,661.3 1629.8,673.8 1632.3,696.3 1634.8,728.9 1637.3,753.9 1639.8,774.0 1641.8,766.5 1643.6,741.4 1645.3,696.3 1648.6,688.8 1651.8,686.3 1653.6,698.8 1654.8,706.4 1657.4,678.8 1658.6,646.3 1661.1,623.7 1662.9,628.7 1664.9,628.7 1666.1,671.3 1668.6,691.3 1669.9,718.9 1671.1,738.9 1673.6,731.4 1676.1,716.4 1677.4,706.4 1679.9,733.9 1682.4,716.4 1684.9,701.4 1687.4,716.4 1689.9,726.4 1692.4,736.4 1694.9,748.9 1697.4,716.4 1699.9,678.8 1702.4,671.3 1704.9,678.8 1707.4,703.9 1709.9,731.4 1712.4,716.4 1714.9,708.9 1717.4,713.9 1719.9,741.4 1722.5,751.4 1725.0,728.9 1727.5,696.3 1730.0,681.3 1733.7,680.1 1736.2,703.9 1738.7,723.9 1741.2,691.3 1743.7,671.3 1746.2,691.3 1748.7,696.3 1750.5,716.4 1752.5,741.4 1755.0,761.4 1757.5,775.2 1772.0,775.2 1772.0,775.2 1805.8,775.2 1808.3,770.2 1813.3,765.2 1819.6,765.2 1823.3,761.4 1825.8,766.5 1828.3,772.7 1830.8,766.5 1833.3,753.9 1835.8,743.9 1839.6,740.2 1842.1,737.7 1844.6,743.9 1847.1,753.9 1849.6,742.7 1852.1,743.9 1853.4,766.5 1858.4,766.5 1860.9,757.7 1865.9,756.4 1868.4,763.9 1870.9,767.7 1873.4,763.9 1877.2,762.7 1879.7,748.9 1883.4,741.4 1887.2,737.7 1890.9,741.4 1893.4,748.9 1895.9,757.7 1899.7,766.5 1902.2,746.4 1906.0,742.7 1911.0,742.7 1913.5,753.9 1916.0,766.5 1918.5,757.7 1922.2,763.9 1926.0,774.0 1929.7,775.2 1933.5,775.2 1936.0,766.5 1938.5,753.9 1942.3,750.2 1944.8,737.7 1947.3,743.9 1949.8,753.9 1952.3,748.9 1956.0,742.7 1958.5,751.4 1962.3,757.7 1964.8,766.5 1966.0,779.0 1969.8,774.0 1972.3,766.5 1983.6,766.5 1986.1,746.4 1988.6,745.2 1992.3,746.4 1994.8,753.9 1998.6,766.5 2001.1,756.4 2006.1,756.4 2009.9,763.9 2013.6,766.5 2021.1,766.5 2022.4,775.2 2032.4,775.2 2034.9,770.2 2037.4,766.5 2041.2,765.2 2044.9,761.4 2048.7,766.5 2052.4,756.4 2056.2,765.2 2058.7,753.9 2062.4,748.9 2066.2,751.4 2071.2,750.2 2073.7,756.4 2077.5,761.4 2081.2,779.0 2086.2,779.0 2088.7,770.2 2092.5,766.5 2096.2,758.9 2100.0,756.4 2103.7,757.7 2104.5,738.9 2106.3,748.9 2113.8,748.9 2115.0,765.2 2122.0,765.2 2122.0,765.2 2127.0,766.5 2130.8,771.5 2133.3,779.0 2135.8,766.5 2139.5,756.4 2143.3,748.9 2147.0,751.4 2150.8,751.4 2153.3,758.9 2158.3,758.9 2160.8,775.2 2163.3,760.2 2169.6,758.9 2170.8,779.0 2174.6,766.5 2177.1,762.7 2179.6,747.7 2182.1,758.9 2187.1,758.9 2189.6,771.5 2194.6,771.5 2197.1,779.0 2200.9,761.4 2205.9,755.2 2208.4,745.2 2210.9,751.4 2214.6,737.7 2217.1,745.2 2220.9,748.9 2223.4,766.5 2225.9,779.0 2234.7,779.0 2238.4,766.5 2242.2,756.4 2245.9,758.9 2249.7,766.5 2252.2,775.2 2257.2,772.7 2262.2,772.7 2263.5,755.2 2267.2,752.7 2271.0,753.9 2273.5,748.9 2278.5,748.9 2279.7,728.9 2283.5,726.4 2286.0,713.9 2289.8,712.6 2292.3,728.9 2296.0,743.9 2298.5,741.4 2301.0,748.9 2303.5,751.4 2307.3,761.4 2312.3,766.5 2316.0,761.4 2319.8,753.9 2323.6,745.2 2327.3,742.7 2329.8,753.9 2333.6,756.4 2337.3,766.5 2342.3,779.0 2348.6,771.5 2351.1,767.7 2356.1,766.5 2359.9,763.9 2363.6,763.9 2366.1,748.9 2368.6,738.9 2372.4,743.9 2374.9,742.7 2377.4,758.9 2379.9,753.9 2383.6,753.9 2387.4,760.2 2391.2,766.5 2393.7,779.0 2397.4,766.5 2399.9,751.4 2403.7,745.2 2407.4,738.9 2409.9,748.9 2413.7,750.2 2417.4,757.7 2421.2,774.0 2425.0,779.0 2432.5,779.0 2436.2,771.5 2442.5,767.7 2446.2,770.2 2450.0,770.2 2453.7,763.9 2457.5,753.9 2461.3,747.7" fill="none" stroke="#000" stroke-width="5.5" stroke-linejoin="round" stroke-linecap="round"/>
<path d="M1429.5,468.5 V779 H2463.5 V468.5" fill="none" stroke="#000" stroke-width="6" stroke-linejoin="round" stroke-linecap="butt"/>
<path d="M1429.5,471 h11 M2463.5,471 h-11 M1429.5,623.6 h11 M2463.5,623.6 h-11" fill="none" stroke="#000" stroke-width="5" stroke-linecap="butt"/></g>
<g id="pB3"><polygon points="1449.5,1120.0 1449.5,1120.0 1452.0,1103.4 1455.8,1088.4 1462.1,1085.9 1469.6,1084.7 1474.6,1085.9 1478.3,1090.9 1482.1,1087.2 1487.1,1085.9 1490.9,1090.9 1495.9,1093.4 1499.6,1088.4 1502.1,1058.4 1504.6,983.3 1507.1,908.2 1509.6,870.6 1512.1,878.1 1514.6,920.7 1518.4,983.3 1522.2,1033.3 1525.9,1053.4 1529.7,1065.9 1533.4,1078.4 1537.2,1084.7 1542.2,1083.4 1547.2,1073.4 1550.9,1068.4 1554.7,1078.4 1559.7,1080.9 1564.7,1083.4 1569.7,1084.7 1574.7,1082.2 1578.5,1079.7 1582.2,1083.4 1587.2,1083.4 1592.3,1073.4 1597.3,1073.4 1599.8,1058.4 1602.3,1033.3 1606.0,1008.3 1609.8,958.2 1612.3,933.2 1614.8,958.2 1617.3,1008.3 1619.8,1058.4 1622.3,1040.8 1624.8,1058.4 1628.6,1078.4 1634.8,1069.6 1639.8,1073.4 1644.8,1080.9 1652.3,1083.4 1659.9,1088.4 1666.1,1083.4 1672.4,1073.4 1677.4,1069.6 1682.4,1078.4 1687.4,1083.4 1692.4,1085.9 1697.4,1073.4 1701.2,1033.3 1704.9,983.3 1708.7,933.2 1711.9,913.2 1714.4,915.7 1716.9,948.2 1719.9,1008.3 1722.5,1033.3 1726.2,1038.3 1730.0,1033.3 1733.7,1020.8 1737.5,1005.8 1742.5,998.3 1745.0,990.8 1747.5,1008.3 1751.2,1010.8 1755.0,1015.8 1760.0,1010.8 1765.0,1005.8 1768.8,998.3 1772.0,990.8 1772.0,983.3 1774.5,970.7 1777.5,940.7 1779.5,963.2 1782.0,948.2 1784.0,931.9 1786.5,983.3 1789.5,993.3 1793.3,1003.3 1795.8,995.8 1798.3,970.7 1800.0,958.2 1802.0,968.2 1805.0,952.0 1807.1,968.2 1810.8,975.8 1813.3,998.3 1817.1,1015.8 1820.8,1045.9 1824.6,1060.9 1829.6,1070.9 1835.8,1078.4 1839.1,1045.9 1841.6,983.3 1844.1,953.2 1846.6,949.5 1849.1,983.3 1851.6,1033.3 1854.6,1068.4 1858.4,1060.9 1863.4,1065.9 1869.6,1073.4 1877.2,1083.4 1884.7,1073.4 1892.2,1068.4 1899.7,1073.4 1906.0,1063.4 1909.7,1033.3 1913.5,983.3 1916.0,908.2 1917.7,858.1 1919.7,816.8 1921.7,858.1 1924.2,933.2 1926.7,1008.3 1929.7,1058.4 1933.5,1085.9 1938.5,1088.4 1943.5,1090.9 1947.3,1095.9 1952.3,1083.4 1957.3,1073.4 1963.5,1070.9 1969.8,1073.4 1976.1,1077.2 1982.3,1080.9 1987.3,1095.9 1992.3,1120.0 1992.3,1120.0" fill="#7f8686"/>
<polyline points="1432.0,1099.7 1435.8,1095.9 1437.5,1073.4 1439.5,1067.1 1443.3,1064.6 1445.0,1050.9 1447.0,1068.4 1449.5,1083.4 1452.0,1068.4 1455.8,1067.1 1459.6,1072.1 1462.1,1083.4 1464.6,1088.4 1466.6,1065.9 1469.1,1063.4 1470.8,1038.3 1473.3,988.3 1475.8,983.3 1478.3,968.2 1481.6,960.7 1484.1,945.7 1485.8,913.2 1488.3,858.1 1490.9,850.6 1493.4,845.6 1495.9,853.1 1497.1,883.1 1499.6,908.2 1502.1,929.4 1504.1,908.2 1505.9,883.1 1507.1,840.5 1509.1,839.3 1511.6,848.1 1513.4,853.1 1514.6,895.6 1516.6,958.2 1518.4,1033.3 1520.1,1083.4 1521.6,1033.3 1523.4,958.2 1525.2,895.6 1527.2,858.1 1529.2,820.5 1530.9,813.0 1532.7,815.5 1534.2,858.1 1535.9,908.2 1537.7,958.2 1539.2,1003.3 1540.9,1033.3 1542.9,1077.2 1545.2,1070.9 1547.2,1060.9 1550.9,1054.6 1553.4,1048.4 1556.0,1063.4 1558.5,1048.4 1560.2,1020.8 1561.7,1000.8 1564.7,998.3 1567.2,988.3 1569.7,978.3 1571.7,1003.3 1573.5,1033.3 1575.2,1008.3 1577.7,1005.8 1580.2,1025.8 1582.2,1015.8 1586.0,1013.3 1588.5,1033.3 1591.0,1050.9 1593.5,1063.4 1596.0,1048.4 1598.5,1033.3 1600.3,1018.3 1602.3,1008.3 1604.3,970.7 1605.5,930.7 1608.5,925.7 1610.3,915.7 1612.8,906.9 1614.8,920.7 1616.0,948.2 1617.8,948.2 1619.3,1008.3 1621.0,1070.9 1622.8,1116.0 1625.3,1095.9 1626.8,1033.3 1628.6,988.3 1631.1,983.3 1633.6,980.8 1636.1,993.3 1637.8,1013.3 1640.3,1015.8 1641.8,1038.3 1644.3,1030.8 1646.1,1045.9 1648.6,1038.3 1649.8,1070.9 1652.3,1050.9 1656.1,1049.6 1658.6,1058.4 1661.1,1085.9 1663.6,1099.7 1666.1,1102.2 1668.6,1083.4 1671.1,1072.1 1674.9,1053.4 1677.4,1038.3 1679.4,1029.6 1681.1,1043.4 1683.6,1058.4 1686.1,1078.4 1688.6,1095.9 1691.2,1108.5 1693.7,1095.9 1696.2,1083.4 1698.7,1078.4 1701.9,1048.4 1703.7,1038.3 1705.4,988.3 1709.9,987.0 1712.4,1003.3 1714.4,1033.3 1716.2,1070.9 1717.4,1100.9 1722.5,1103.4 1723.7,1070.9 1725.5,1033.3 1727.5,1015.8 1730.0,1015.8 1731.2,983.3 1733.0,973.2 1735.0,983.3 1736.2,1008.3 1738.7,1020.8 1740.0,1005.8 1742.5,1033.3 1745.0,1020.8 1747.5,1053.4 1750.0,1070.9 1753.7,1068.4 1756.3,1043.4 1758.8,1015.8 1761.3,1008.3 1763.8,1020.8 1766.3,1038.3 1768.8,1058.4 1772.0,1070.9 1772.0,1070.9 1774.5,1045.9 1778.3,1043.4 1782.0,1050.9 1784.5,1063.4 1787.0,1088.4 1790.0,1078.4 1792.0,1045.9 1794.0,1022.1 1797.0,1028.3 1799.5,1035.8 1802.5,1038.3 1804.5,1070.9 1807.1,1078.4 1810.8,1082.2 1813.3,1095.9 1815.8,1113.5 1819.6,1114.7 1822.1,1083.4 1824.6,1073.4 1827.1,1065.9 1830.1,1055.9 1832.1,1088.4 1834.6,1083.4 1837.6,1065.9 1840.9,1053.4 1844.1,1047.1 1846.6,1058.4 1848.4,1075.9 1850.9,1090.9 1854.6,1108.5 1858.4,1114.7 1860.9,1083.4 1863.4,1058.4 1865.1,1023.3 1867.1,1015.8 1869.6,1025.8 1872.2,1048.4 1874.7,1073.4 1877.2,1093.4 1879.7,1103.4 1883.4,1083.4 1885.9,1058.4 1888.4,1038.3 1890.9,1029.6 1894.2,1038.3 1896.7,1058.4 1899.7,1080.9 1901.7,1033.3 1903.4,983.3 1904.7,940.7 1907.2,925.7 1909.7,910.7 1911.7,920.7 1913.5,938.2 1914.7,985.8 1916.7,930.7 1918.5,931.9 1920.2,958.2 1922.2,970.7 1924.7,1008.3 1926.7,1058.4 1928.5,1120.0 1930.2,1098.4 1937.2,1097.2 1938.5,1120.0 1943.5,1114.7 1945.3,1083.4 1947.3,1058.4 1949.3,1042.1 1952.3,1040.8 1955.3,1035.8 1957.3,1058.4 1959.3,1078.4 1961.8,1100.9 1964.3,1085.9 1967.3,1075.9 1969.8,1058.4 1971.8,1050.9 1974.3,1063.4 1976.1,1078.4 1978.6,1079.7 1981.1,1088.4 1983.6,1103.4 1986.1,1120.0 2073.7,1120.0 2075.0,1109.7 2081.2,1108.5 2085.0,1103.4 2090.0,1100.9 2095.0,1104.7 2097.5,1120.0 2102.5,1114.7 2105.0,1098.4 2108.8,1097.2 2111.3,1104.7 2113.8,1093.4 2116.3,1099.7 2122.0,1100.9 2122.0,1112.2 2125.8,1109.7 2130.8,1107.2 2134.5,1102.2 2138.3,1107.2 2144.5,1108.5 2148.3,1105.9 2150.0,1090.9 2154.5,1084.7 2159.1,1077.2 2160.8,1088.4 2164.6,1094.7 2168.3,1098.4 2172.1,1102.2 2175.8,1100.9 2179.6,1108.5 2187.1,1108.5 2189.6,1095.9 2193.4,1083.4 2196.6,1073.4 2199.6,1070.9 2202.1,1078.4 2205.9,1088.4 2209.6,1098.4 2214.6,1108.5 2219.6,1120.0 2222.2,1107.2 2227.2,1100.9 2230.9,1090.9 2233.4,1080.9 2235.9,1068.4 2239.7,1065.9 2242.2,1083.4 2244.7,1098.4 2248.4,1104.7 2253.4,1109.7 2258.5,1120.0 2262.2,1114.7 2271.0,1113.5 2274.7,1108.5 2279.2,1102.2 2282.2,1108.5 2287.2,1114.7 2291.0,1120.0 2293.5,1108.5 2299.8,1105.9 2304.8,1100.9 2308.5,1095.9 2311.0,1084.7 2314.8,1095.9 2319.8,1094.7 2323.6,1088.4 2326.1,1077.2 2329.3,1078.4 2331.8,1087.2 2334.8,1088.4 2336.8,1108.5 2339.8,1102.2 2343.6,1103.4 2347.3,1112.2 2353.6,1120.0 2357.4,1105.9 2363.6,1102.2 2367.4,1092.2 2369.9,1100.9 2373.6,1099.7 2376.1,1089.7 2379.9,1098.4 2382.4,1093.4 2386.1,1102.2 2389.9,1095.9 2394.9,1090.9 2398.2,1082.2 2401.2,1090.9 2406.2,1092.2 2412.4,1089.7 2416.2,1095.9 2418.7,1085.9 2425.5,1084.7 2428.0,1095.9 2431.2,1108.5 2435.0,1120.0 2438.0,1105.9 2442.5,1098.4 2447.5,1095.9 2452.5,1099.7 2457.5,1095.9 2461.3,1102.2" fill="none" stroke="#000" stroke-width="5.5" stroke-linejoin="round" stroke-linecap="round"/>
<path d="M1429.5,811.0 V1120 H2463.5 V811.0" fill="none" stroke="#000" stroke-width="6" stroke-linejoin="round" stroke-linecap="butt"/>
<path d="M1429.5,813.5 h11 M2463.5,813.5 h-11 M1429.5,965.5 h11 M2463.5,965.5 h-11" fill="none" stroke="#000" stroke-width="5" stroke-linecap="butt"/></g>
<g id="labels">
<text x="391.5" y="91.5" font-size="87" font-weight="bold" text-anchor="start" >A</text>
<text x="1456" y="91.5" font-size="87" font-weight="bold" text-anchor="start" >B</text>
<text transform="translate(27.5,315.5) scale(0.93,1)" font-size="75">TSV</text>
<text x="25.5" y="661" font-size="74" font-weight="normal" text-anchor="start" >BH</text>
<text x="25.5" y="1005.5" font-size="74" font-weight="normal" text-anchor="start" >BT</text>
<text x="1117.5" y="175" font-size="41" font-weight="normal" text-anchor="start" >7.6 kHz</text>
<text x="1117.5" y="222" font-size="41" font-weight="normal" text-anchor="start" >0.91</text>
<text x="1117.5" y="521" font-size="41" font-weight="normal" text-anchor="start" >8.0 kHz</text>
<text x="1117.5" y="568" font-size="41" font-weight="normal" text-anchor="start" >0.95</text>
<text x="1120" y="865" font-size="41" font-weight="normal" text-anchor="start" >12.3 kHz</text>
<text x="1120" y="912" font-size="41" font-weight="normal" text-anchor="start" >0.95</text>
<text x="2180" y="175" font-size="41" font-weight="normal" text-anchor="start" >8.4 kHz</text>
<text x="2180" y="222" font-size="41" font-weight="normal" text-anchor="start" >0.29</text>
<text x="2180" y="521" font-size="41" font-weight="normal" text-anchor="start" >4.3 kHz</text>
<text x="2180" y="568" font-size="41" font-weight="normal" text-anchor="start" >0.62</text>
<text x="2180" y="865" font-size="41" font-weight="normal" text-anchor="start" >8.4 kHz</text>
<text x="2180" y="912" font-size="41" font-weight="normal" text-anchor="start" >0.65</text>
<text x="533.4" y="1179" font-size="52" font-weight="normal" text-anchor="middle" >200</text>
<text x="740.5" y="1179" font-size="52" font-weight="normal" text-anchor="middle" >400</text>
<text x="947" y="1179" font-size="52" font-weight="normal" text-anchor="middle" >600</text>
<text x="1154" y="1179" font-size="52" font-weight="normal" text-anchor="middle" >800</text>
<text x="1594" y="1179" font-size="52" font-weight="normal" text-anchor="middle" >200</text>
<text x="1801" y="1179" font-size="52" font-weight="normal" text-anchor="middle" >400</text>
<text x="2007.5" y="1179" font-size="52" font-weight="normal" text-anchor="middle" >600</text>
<text x="2214" y="1179" font-size="52" font-weight="normal" text-anchor="middle" >800</text>
<text x="339" y="835" font-size="52" font-weight="normal" text-anchor="middle" >1</text>
<text x="341.2" y="1137" font-size="52" font-weight="normal" text-anchor="middle" >0</text>
<text x="862.5" y="1239" font-size="50.5" font-weight="normal" text-anchor="middle" >time (ms)</text>
<text transform="translate(288,612) rotate(-90)" font-size="52.2" letter-spacing="-0.92" text-anchor="middle">normalized spike count or basilarmbrane velocity</text>
</g>
</svg>
</body></html>
